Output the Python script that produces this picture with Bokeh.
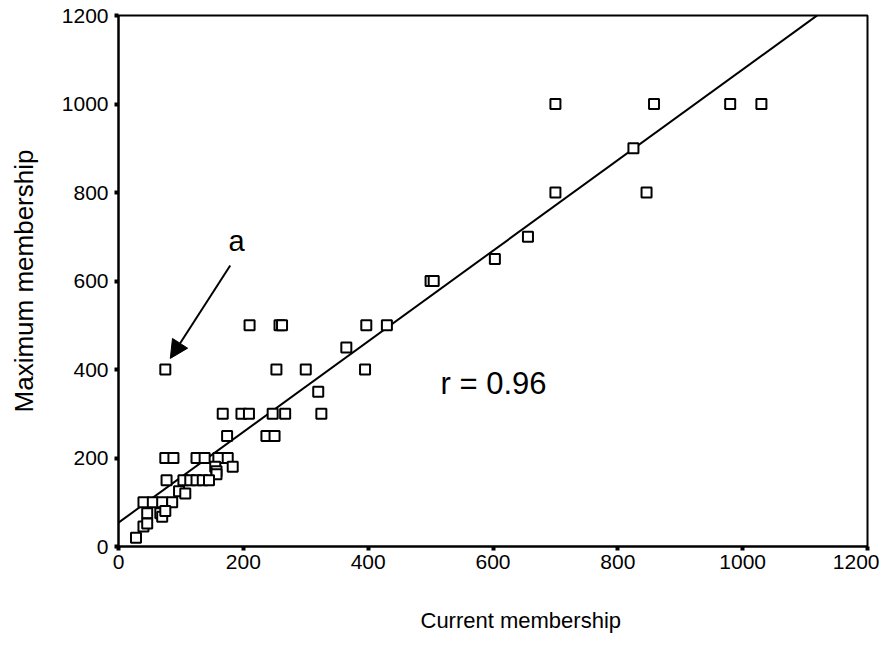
from bokeh.plotting import figure
from bokeh.models import Range1d, FixedTicker, Arrow, NormalHead, Label, Title
from bokeh.embed import file_html
from bokeh.resources import INLINE

# Current membership (x) and maximum membership (y)
current = [75, 210, 258, 262, 397, 430, 365, 253, 300, 395, 320,
           167, 197, 209, 247, 267, 325, 174, 237, 250,
           75, 88, 125, 138, 160, 175, 155, 157, 157, 183,
           77, 104, 115, 125, 135, 145, 97, 107,
           40, 55, 70, 86, 46, 67, 70, 75, 40, 46, 28,
           500, 505, 603, 656, 700, 700, 825, 846, 858, 980, 1030]
maximum = [400, 500, 500, 500, 500, 500, 450, 400, 400, 400, 350,
           300, 300, 300, 300, 300, 300, 250, 250, 250,
           200, 200, 200, 200, 200, 200, 180, 170, 163, 180,
           150, 150, 150, 150, 150, 150, 125, 120,
           100, 100, 100, 100, 75, 75, 67, 80, 45, 52, 20,
           600, 600, 650, 700, 800, 1000, 900, 800, 1000, 1000, 1000]

fit_slope = 1.024
fit_intercept = 54.0
fit_x_range = [0, 1120]

ticks = [0, 200, 400, 600, 800, 1000, 1200]

FONT = "Liberation Sans"

p = figure(frame_width=749, frame_height=531, output_backend="svg",
           toolbar_location=None, x_range=Range1d(0, 1200), y_range=Range1d(0, 1200),
           min_border_left=118, min_border_right=12, min_border_top=15,
           min_border_bottom=92)
p.grid.visible = False
p.outline_line_color = "black"
p.outline_line_width = 2
p.background_fill_color = "white"
p.border_fill_color = "white"

for ax in (p.xaxis[0], p.yaxis[0]):
    ax.ticker = FixedTicker(ticks=ticks)
    ax.minor_tick_line_color = None
    ax.major_tick_in = 0
    ax.major_tick_out = 4
    ax.major_tick_line_width = 4
    ax.major_tick_line_color = "black"
    ax.axis_line_width = 2
    ax.axis_line_color = "black"
    ax.major_label_text_font = FONT
    ax.major_label_text_font_size = "21px"
    ax.major_label_text_color = "black"
    ax.axis_label_text_font = FONT
    ax.axis_label_text_font_style = "normal"
    ax.axis_label_text_color = "black"

p.xaxis.major_label_standoff = 4
p.yaxis.axis_label = "Maximum membership"
p.yaxis.axis_label_text_font_size = "26px"
p.yaxis.axis_label_standoff = 20
p.yaxis.major_label_standoff = 6

xtitle = Title(text="Current membership", align="left", offset=302, standoff=69,
               text_font=FONT, text_font_size="22px", text_font_style="normal",
               text_color="black")
p.add_layout(xtitle, "below")

fx = fit_x_range
fy = [fit_intercept + fit_slope * v for v in fx]
p.line(fx, fy, line_color="black", line_width=2)

p.scatter(current, maximum, marker="square", size=10, fill_color="white",
          line_color="black", line_width=2)

p.add_layout(Arrow(end=NormalHead(size=18, fill_color="black", line_color="black"),
                   x_start=179, y_start=635, x_end=83, y_end=425,
                   line_color="black", line_width=2))
p.add_layout(Label(x=189, y=691, text="a", text_font=FONT, text_font_size="29px",
                   text_color="black", text_align="center", text_baseline="middle"))
p.add_layout(Label(x=516, y=368, text="r = 0.96", text_font=FONT, text_font_size="31px",
                   text_color="black", text_align="left", text_baseline="middle"))

open("out.html", "w").write(file_html(p, INLINE))
